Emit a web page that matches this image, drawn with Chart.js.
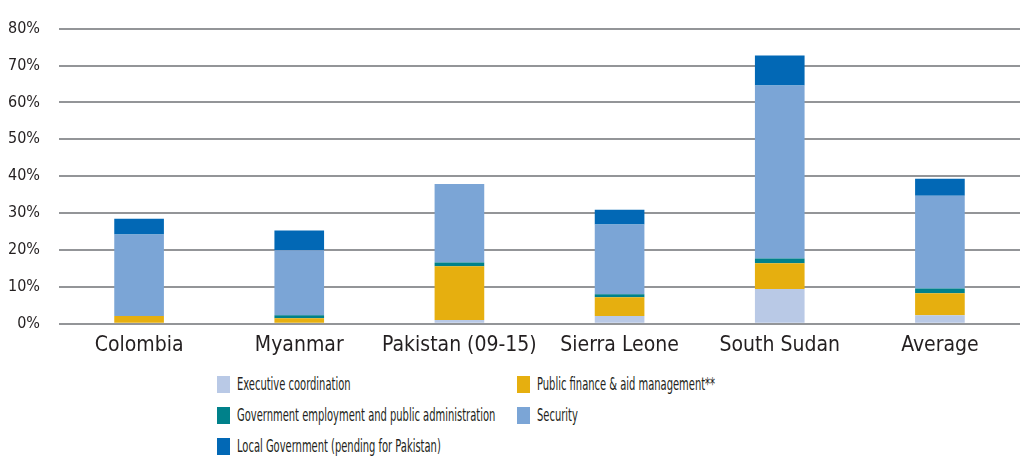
<!DOCTYPE html>
<html>
<head>
<meta charset="utf-8">
<script src="https://cdn.jsdelivr.net/npm/chart.js@4.4.0/dist/chart.umd.min.js"></script>
<style>
  html, body { margin: 0; padding: 0; background: #fff; }
  #wrap { position: relative; width: 1020px; height: 456px; font-family: 'DejaVu Sans Condensed', 'Liberation Sans Narrow', 'Liberation Sans', sans-serif; color: #231f20; }
  #chartBox { position: absolute; left: 0; top: 0; width: 1020px; height: 359px; }
  #legend { position: absolute; left: 217px; top: 374px; width: 700px; }
  .item { position: absolute; display: flex; align-items: center; font-size: 17px; white-space: nowrap; }
  .sw { width: 13px; height: 17px; margin-right: 7px; flex: none; }
  .txt { display: inline-block; transform: scaleX(0.65); transform-origin: left center; }
</style>
</head>
<body>
<div id="wrap">
  <div id="chartBox"><canvas id="myChart"></canvas></div>
  <div id="legend"></div>
</div>
<script>
let countries   = ["Colombia", "Myanmar", "Pakistan (09-15)", "Sierra Leone", "South Sudan", "Average"];
let execCoord   = [0,    0,    1.0,  2.1,  9.4,  2.3];
let publicFin   = [2.1,  1.5,  14.6, 5.1,  7.0,  6.0];
let govEmploy   = [0,    0.8,  1.0,  0.8,  1.3,  1.3];
let security    = [22.1, 17.6, 21.3, 18.9, 46.9, 25.1];
let localGov    = [4.3,  5.4,  0,    4.0,  8.1,  4.6];
let yTicks      = [0, 10, 20, 30, 40, 50, 60, 70, 80];

let seriesNames = [
    "Executive coordination",
    "Public finance & aid management**",
    "Government employment and public administration",
    "Security",
    "Local Government (pending for Pakistan)"
];
let seriesColors = ["#b9c9e6", "#e6af0f", "#00818a", "#7ba5d6", "#0268b5"];
let seriesData   = [execCoord, publicFin, govEmploy, security, localGov];

const font = "'DejaVu Sans Condensed', 'Liberation Sans Narrow', 'Liberation Sans', sans-serif";

const ctx = document.getElementById('myChart').getContext('2d');
const myChart = new Chart(ctx, {
    type: 'bar',
    data: {
        labels: countries,
        datasets: seriesData.map((d, i) => ({
            label: seriesNames[i],
            data: d,
            backgroundColor: seriesColors[i],
            borderWidth: 0,
            categoryPercentage: 1,
            barPercentage: 0.31
        }))
    },
    options: {
        responsive: true,
        maintainAspectRatio: false,
        animation: false,
        layout: { padding: { top: 10, right: 0, left: 0, bottom: 0 } },
        plugins: {
            legend: { display: false },
            tooltip: { enabled: false }
        },
        scales: {
            x: {
                stacked: true,
                grid: { display: false },
                border: { display: false },
                ticks: {
                    color: '#231f20', font: { family: font, size: 21 }, padding: 1,
                    maxRotation: 0, minRotation: 0, autoSkip: false
                }
            },
            y: {
                stacked: true,
                min: 0,
                max: 80,
                afterBuildTicks: axis => { axis.ticks = yTicks.map(v => ({ value: v })); },
                afterFit: axis => { axis.width = 59; },
                grid: { color: '#939598', lineWidth: 2, drawTicks: false },
                border: { display: false },
                ticks: {
                    color: '#231f20',
                    font: { family: font, size: 16 },
                    padding: 19,
                    callback: v => v + '%'
                }
            }
        }
    }
});

// legend in two columns like the original
let legend = document.getElementById('legend');
seriesNames.forEach((name, k) => {
    let col = k % 2, row = Math.floor(k / 2);
    let el = document.createElement('div');
    el.className = 'item';
    el.style.left = (col * 300) + 'px';
    el.style.top = (row * 31) + 'px';
    el.innerHTML = '<div class="sw" style="background:' + seriesColors[k] + '"></div><span class="txt">' + name + '</span>';
    legend.appendChild(el);
});
</script>
</body>
</html>
